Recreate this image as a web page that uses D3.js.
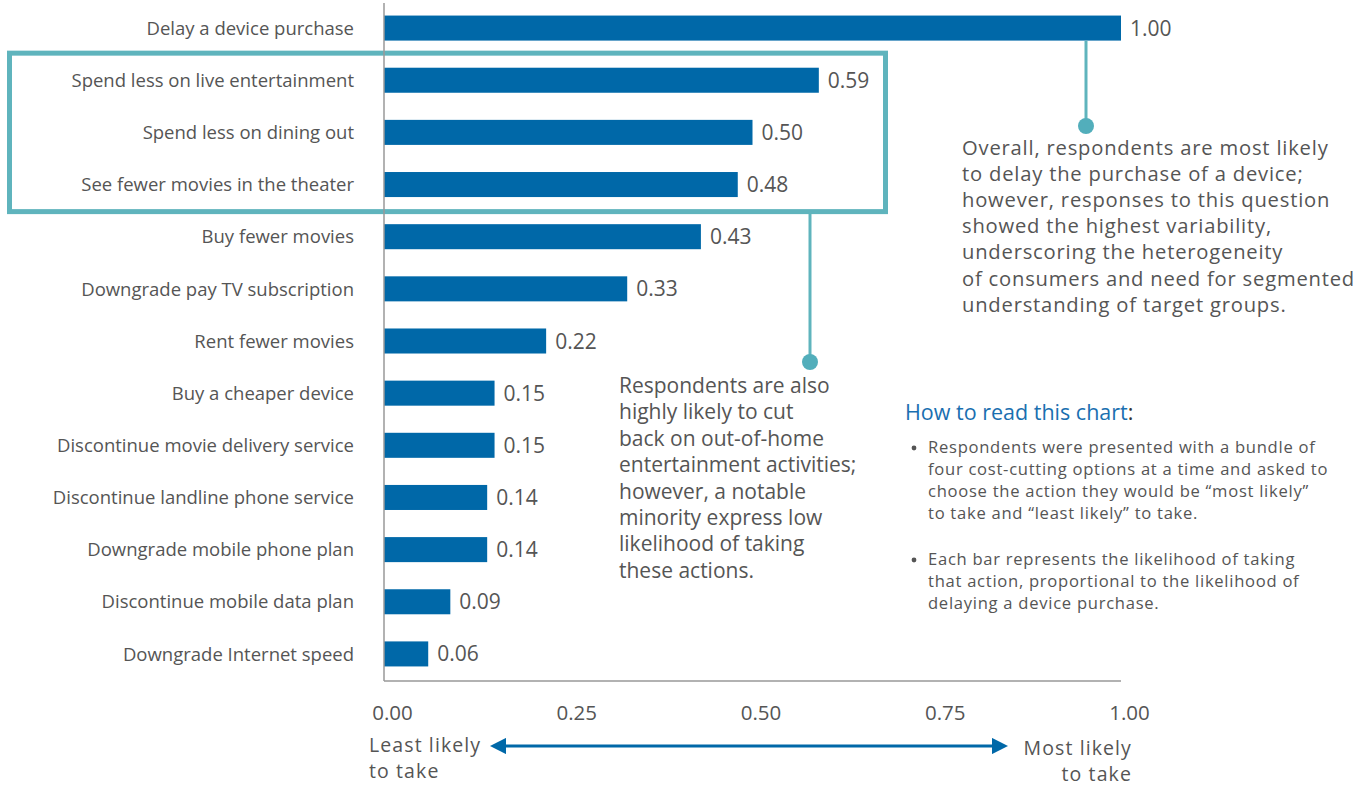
<!DOCTYPE html>
<html>
<head>
<meta charset="utf-8">
<script src="https://cdn.jsdelivr.net/npm/d3@7/dist/d3.min.js"></script>
<style>
  html, body { margin: 0; padding: 0; background: #fff; }
  svg { display: block; font-family: "Open Sans", "Noto Sans", sans-serif; }
</style>
</head>
<body>
<svg id="chart" width="1370" height="786"></svg>
<script>
// Cost-cutting actions, likelihood relative to delaying a device purchase
const categories = [
  "Delay a device purchase",
  "Spend less on live entertainment",
  "Spend less on dining out",
  "See fewer movies in the theater",
  "Buy fewer movies",
  "Downgrade pay TV subscription",
  "Rent fewer movies",
  "Buy a cheaper device",
  "Discontinue movie delivery service",
  "Discontinue landline phone service",
  "Downgrade mobile phone plan",
  "Discontinue mobile data plan",
  "Downgrade Internet speed"
];
const values = [1.00, 0.59, 0.50, 0.48, 0.43, 0.33, 0.22, 0.15, 0.15, 0.14, 0.14, 0.09, 0.06];
const tickValues = [0, 0.25, 0.5, 0.75, 1.0];
const tickLabels = ["0.00", "0.25", "0.50", "0.75", "1.00"];

const highlighted = ["Spend less on live entertainment", "Spend less on dining out", "See fewer movies in the theater"];

const noteTop = [
  "Overall, respondents are most likely",
  "to delay the purchase of a device;",
  "however, responses to this question",
  "showed the highest variability,",
  "underscoring the heterogeneity",
  "of consumers and need for segmented",
  "understanding of target groups."
];
const noteMid = [
  "Respondents are also",
  "highly likely to cut",
  "back on out-of-home",
  "entertainment activities;",
  "however, a notable",
  "minority express low",
  "likelihood of taking",
  "these actions."
];
const howToTitle = "How to read this chart";
const howToBullets = [
  ["Respondents were presented with a bundle of",
   "four cost-cutting options at a time and asked to",
   "choose the action they would be \u201cmost likely\u201d",
   "to take and \u201cleast likely\u201d to take."],
  ["Each bar represents the likelihood of taking",
   "that action, proportional to the likelihood of",
   "delaying a device purchase."]
];

const BLUE = "#0068a8";
const TEAL = "#5fb4bd";
const GREY_TEXT = "#555555";
const AXIS = "#999999";

const svg = d3.select("#chart");

const x = d3.scaleLinear().domain([0, 1]).range([384, 1121]);
const y = d3.scaleBand().domain(categories).range([2, 680]).paddingInner(0.52).paddingOuter(0.26);

// Highlight frame around the out-of-home entertainment group
const hiTop = y(highlighted[0]) - (y.step() - y.bandwidth()) / 2 - 1;
const hiBot = y(highlighted[highlighted.length - 1]) + y.bandwidth() + (y.step() - y.bandwidth()) / 2 + 1;
svg.append("rect")
  .attr("x", 9.5).attr("y", hiTop)
  .attr("width", 876).attr("height", hiBot - hiTop)
  .attr("fill", "none").attr("stroke", TEAL).attr("stroke-width", 5);

// Bars
svg.append("g").selectAll("rect")
  .data(categories)
  .join("rect")
  .attr("x", x(0))
  .attr("y", d => y(d))
  .attr("width", (d, i) => x(values[i]) - x(0))
  .attr("height", y.bandwidth())
  .attr("fill", BLUE);

// Value labels
svg.append("g").selectAll("text")
  .data(categories)
  .join("text")
  .attr("x", (d, i) => x(values[i]) + 9)
  .attr("y", d => y(d) + y.bandwidth() / 2)
  .attr("dy", "0.36em")
  .attr("font-size", 21)
  .attr("fill", GREY_TEXT)
  .text((d, i) => values[i].toFixed(2));

// Category labels
svg.append("g").selectAll("text")
  .data(categories)
  .join("text")
  .attr("x", 354)
  .attr("y", d => y(d) + y.bandwidth() / 2)
  .attr("dy", "0.36em")
  .attr("text-anchor", "end")
  .attr("font-size", 18.5)
  .attr("fill", GREY_TEXT)
  .text(d => d);

// Axis lines
svg.append("line")
  .attr("x1", x(0)).attr("x2", x(0)).attr("y1", 3).attr("y2", 681)
  .attr("stroke", AXIS).attr("stroke-width", 1.5);
svg.append("line")
  .attr("x1", x(0)).attr("x2", x(1)).attr("y1", 681).attr("y2", 681)
  .attr("stroke", AXIS).attr("stroke-width", 1.5);

// Tick labels
const xAxis = d3.axisBottom(x).tickValues(tickValues).tickFormat((d, i) => tickLabels[i]).tickSize(0).tickPadding(0);
const axisG = svg.append("g").attr("transform", "translate(8,705)").call(xAxis);
axisG.select(".domain").remove();
axisG.selectAll("text")
  .attr("font-size", 20.5)
  .attr("font-family", "'Open Sans', 'Noto Sans', sans-serif")
  .attr("fill", GREY_TEXT);

// Direction arrow under the axis
const defs = svg.append("defs");
defs.append("marker")
  .attr("id", "arrowHead")
  .attr("viewBox", "0 0 10 10")
  .attr("refX", 2).attr("refY", 5)
  .attr("markerWidth", 5.5).attr("markerHeight", 5.5)
  .attr("markerUnits", "strokeWidth")
  .attr("orient", "auto-start-reverse")
  .append("path").attr("d", "M0,0 L10,5 L0,10 Z").attr("fill", BLUE);

svg.append("line")
  .attr("x1", 503).attr("x2", 995).attr("y1", 746).attr("y2", 746)
  .attr("stroke", BLUE).attr("stroke-width", 3)
  .attr("marker-start", "url(#arrowHead)")
  .attr("marker-end", "url(#arrowHead)");

const endLabels = svg.append("g").attr("font-size", 19.5).attr("letter-spacing", "1.1px").attr("fill", GREY_TEXT);
endLabels.append("text").attr("x", 369).attr("y", 752).text("Least likely");
endLabels.append("text").attr("x", 369).attr("y", 778).text("to take");
endLabels.append("text").attr("x", 1132).attr("y", 755).attr("text-anchor", "end").text("Most likely");
endLabels.append("text").attr("x", 1132).attr("y", 781).attr("text-anchor", "end").text("to take");

// Callout: device purchase
const cx1 = 1086;
svg.append("line")
  .attr("x1", cx1).attr("x2", cx1)
  .attr("y1", y(categories[0]) + y.bandwidth()).attr("y2", 126)
  .attr("stroke", TEAL).attr("stroke-width", 3);
svg.append("circle").attr("cx", cx1).attr("cy", 126).attr("r", 8).attr("fill", "#52aebb");

svg.append("g").attr("font-size", 20.2).attr("letter-spacing", "0.8px").attr("fill", GREY_TEXT)
  .selectAll("text").data(noteTop).join("text")
  .attr("x", 962).attr("y", (d, i) => 155 + i * 26.1)
  .text(d => d);

// Callout: entertainment group
const cx2 = 810;
svg.append("line")
  .attr("x1", cx2).attr("x2", cx2)
  .attr("y1", hiBot + 2).attr("y2", 362)
  .attr("stroke", TEAL).attr("stroke-width", 3);
svg.append("circle").attr("cx", cx2).attr("cy", 362).attr("r", 8).attr("fill", "#52aebb");

svg.append("g").attr("font-size", 21).attr("fill", GREY_TEXT)
  .selectAll("text").data(noteMid).join("text")
  .attr("x", 619).attr("y", (d, i) => 393 + i * 26.4)
  .text(d => d);

// How to read this chart
const howTo = svg.append("g");
const title = howTo.append("text").attr("x", 905).attr("y", 420).attr("font-size", 21.5);
title.append("tspan").attr("fill", "#1a6fb0").text(howToTitle);
title.append("tspan").attr("fill", "#333").text(":");

let lineY = 453;
howToBullets.forEach((lines, b) => {
  howTo.append("circle").attr("cx", 914).attr("cy", lineY - 5).attr("r", 2.4).attr("fill", GREY_TEXT);
  lines.forEach((ln, i) => {
    howTo.append("text")
      .attr("x", 928).attr("y", lineY + i * 22)
      .attr("font-size", 16.6).attr("letter-spacing", "0.72px").attr("fill", GREY_TEXT)
      .text(ln);
  });
  lineY += lines.length * 22 + 24;
});
</script>
</body>
</html>
